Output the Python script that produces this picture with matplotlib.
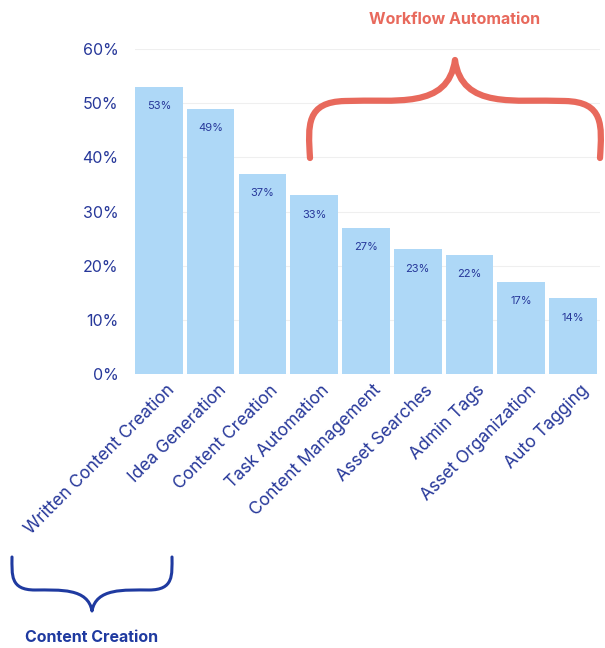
import matplotlib
matplotlib.use("Agg")
import matplotlib.pyplot as plt
from matplotlib.path import Path
from matplotlib.patches import PathPatch
import matplotlib.transforms as mtransforms

categories = ["Written Content Creation", "Idea Generation", "Content Creation",
              "Task Automation", "Content Management", "Asset Searches",
              "Admin Tags", "Asset Organization", "Auto Tagging"]
values = [53, 49, 37, 33, 27, 23, 22, 17, 14]
yticks = [0, 10, 20, 30, 40, 50, 60]
ytick_labels = ["0%", "10%", "20%", "30%", "40%", "50%", "60%"]

NAVY = "#27389a"
BAR = "#aed8f7"
SALMON = "#e8695c"
BRACE_BLUE = "#1f3aa0"

plt.rcParams['font.family'] = ['Inter', 'DejaVu Sans']

W, H = 605, 648
fig = plt.figure(figsize=(W / 100, H / 100), dpi=100)

def fx(x):
    return x / W

def fy(y):
    return 1 - y / H

ax = fig.add_axes([fx(135), fy(374), fx(600) - fx(135), fy(49) - fy(374)])
x = list(range(len(categories)))
ax.bar(x, values, width=0.92, color=BAR, zorder=3)
for xi, v in zip(x, values):
    ax.annotate(f"{v}%", (xi, v), xytext=(0, -14), textcoords="offset points",
                ha="center", va="center", fontsize=8, color=NAVY, zorder=4)
ax.set_xlim(-0.46, 8.52)
ax.set_ylim(0, 60)
ax.set_yticks(yticks)
ax.set_yticklabels(ytick_labels, fontsize=11.5, color=NAVY)
ax.yaxis.grid(True, color="#efefef", linewidth=0.8, zorder=0)
ax.set_axisbelow(True)
for s in ax.spines.values():
    s.set_visible(False)
ax.tick_params(axis="both", length=0)
ax.tick_params(axis="y", pad=12)
ax.set_xticks(x)
ax.set_xticklabels(categories, rotation=45, ha="right", rotation_mode="anchor",
                   fontsize=12.5, color=NAVY)
offset = mtransforms.ScaledTranslation(7 / 100, -3 / 100, fig.dpi_scale_trans)
for lab in ax.get_xticklabels():
    lab.set_transform(lab.get_transform() + offset)

def brace(pts_px, color, lw):
    verts = [(fx(a), fy(b)) for a, b in pts_px]
    codes = [Path.MOVETO] + [Path.CURVE4] * (len(verts) - 1)
    p = PathPatch(Path(verts, codes), transform=fig.transFigure, fill=False,
                  edgecolor=color, linewidth=lw, capstyle="round", joinstyle="round")
    fig.add_artist(p)

c = 455
brace([(310, 158), (308, 125), (306, 102), (345, 101),
       (395, 99), (448, 110), (c, 60),
       (2 * c - 448, 110), (2 * c - 395, 99), (2 * c - 345, 101),
       (2 * c - 306, 102), (2 * c - 308, 125), (2 * c - 310, 158)], SALMON, 4.5)
fig.text(fx(455), fy(20), "Workflow Automation", ha="center", va="center",
         fontsize=11.5, fontweight="bold", color=SALMON)

c2 = 92
brace([(12, 557), (12, 575), (10, 590), (35, 590),
       (60, 590), (88, 588), (c2, 611),
       (2 * c2 - 88, 588), (2 * c2 - 60, 590), (2 * c2 - 35, 590),
       (2 * c2 - 10, 590), (2 * c2 - 12, 575), (2 * c2 - 12, 557)], BRACE_BLUE, 2.2)
fig.text(fx(92), fy(638), "Content Creation", ha="center", va="center",
         fontsize=11.5, fontweight="bold", color=BRACE_BLUE)

fig.savefig("out.png", dpi=100, facecolor="white")
